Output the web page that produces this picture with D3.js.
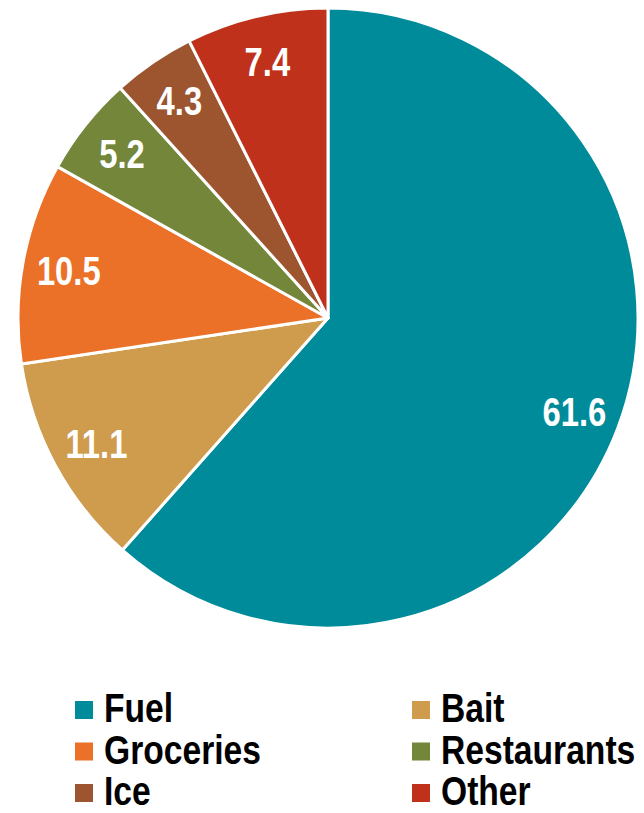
<!DOCTYPE html>
<html lang="en">
<head>
    <meta charset="UTF-8">
    <title>Spending pie</title>
    <script src="https://d3js.org/d3.v7.min.js"></script>
    <style>
        body {
            margin: 0;
            background: #fff;
        }
        text {
            font-family: "Liberation Sans", Arial, sans-serif;
            font-weight: bold;
        }
    </style>
</head>
<body>
<main></main>
<script>
    var categories = ['Fuel', 'Bait', 'Groceries', 'Restaurants', 'Ice', 'Other'];
    var values = [61.6, 11.1, 10.5, 5.2, 4.3, 7.4];
    var colors = ['#008b9a', '#cf9b4c', '#eb7128', '#738639', '#9c552f', '#c0311b'];

    // legend goes in 2 columns, order as in picture
    var legendOrder = ['Fuel', 'Bait', 'Groceries', 'Restaurants', 'Ice', 'Other'];

    var w = 644, h = 813;
    var cx = 328, cy = 318, r = 310;
    var narrow = 0.82; // no Arial Narrow here, so squeeze the text

    var data = categories.map(function(c, i) {
        return {name: c, value: values[i], color: colors[i]};
    });

    var svg = d3.select('main')
                .append('svg')
                .attr('width', w)
                .attr('height', h);

    var pie = d3.pie()
                .sort(null)
                .value(function(d) { return d.value; });

    var arc = d3.arc().innerRadius(0).outerRadius(r);
    var labelArc = d3.arc().innerRadius(r * 0.85).outerRadius(r * 0.85);

    var g = svg.append('g').attr('transform', 'translate(' + cx + ',' + cy + ')');

    var slices = g.selectAll('g.slice')
                  .data(pie(data))
                  .enter()
                  .append('g')
                  .attr('class', 'slice');

    slices.append('path')
          .attr('d', arc)
          .style('fill', function(d) { return d.data.color; })
          .style('stroke', '#fff')
          .style('stroke-width', 3)
          .style('stroke-linejoin', 'round');

    slices.append('text')
          .attr('transform', function(d) {
              return 'translate(' + labelArc.centroid(d) + ') scale(' + narrow + ',1)';
          })
          .attr('text-anchor', 'middle')
          .attr('dy', '0.36em')
          .attr('font-size', '40px')
          .style('fill', '#fff')
          .text(function(d) { return d3.format('.1f')(d.data.value); });

    // legend
    var colX = d3.scalePoint().domain([0, 1]).range([75, 412]);
    var rowY = d3.scalePoint().domain([0, 1, 2]).range([722, 805]);

    var legend = svg.append('g').attr('id', 'legend');
    var items = legend.selectAll('g')
                      .data(legendOrder)
                      .enter()
                      .append('g')
                      .attr('transform', function(d, i) {
                          return 'translate(' + colX(i % 2) + ',' + rowY(Math.floor(i / 2)) + ')';
                      });

    items.append('rect')
         .attr('x', 0)
         .attr('y', -21)
         .attr('width', 18)
         .attr('height', 18)
         .style('fill', function(d) { return colors[categories.indexOf(d)]; });

    items.append('text')
         .attr('transform', 'translate(29,0) scale(' + narrow + ',1)')
         .attr('font-size', '41px')
         .style('fill', '#000')
         .text(function(d) { return d; });
</script>
</body>
</html>
